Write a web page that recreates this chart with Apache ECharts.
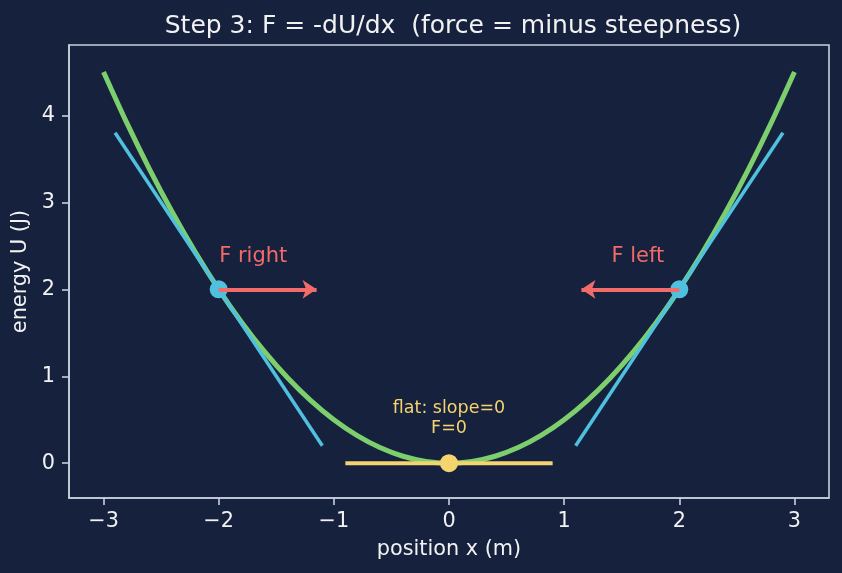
<!DOCTYPE html>
<html>
<head>
<meta charset="utf-8">
<script src="https://cdn.jsdelivr.net/npm/echarts@6/dist/echarts.min.js"></script>
<style>
  html, body { margin: 0; padding: 0; background: #16213e; }
  #chart { width: 842px; height: 573px; }
</style>
</head>
<body>
<div id="chart"></div>
<script>
// ---- data ----
const curveX = [-3, -2.8, -2.6, -2.4, -2.2, -2, -1.8, -1.6, -1.4, -1.2, -1, -0.8, -0.6, -0.4, -0.2, 0,
                0.2, 0.4, 0.6, 0.8, 1, 1.2, 1.4, 1.6, 1.8, 2, 2.2, 2.4, 2.6, 2.8, 3];
const curveU = [4.5, 3.92, 3.38, 2.88, 2.42, 2, 1.62, 1.28, 0.98, 0.72, 0.5, 0.32, 0.18, 0.08, 0.02, 0,
                0.02, 0.08, 0.18, 0.32, 0.5, 0.72, 0.98, 1.28, 1.62, 2, 2.42, 2.88, 3.38, 3.92, 4.5];
const tangentLeftX = [-2.9, -1.1];
const tangentLeftU = [3.8, 0.2];
const tangentRightX = [1.1, 2.9];
const tangentRightU = [0.2, 3.8];
const flatX = [-0.9, 0.9];
const flatU = [0, 0];
const sidePointsX = [-2, 2];
const sidePointsU = [2, 2];
const centerPointX = [0];
const centerPointU = [0];
const arrowRight = [[-2, 2], [-1.15, 2]];
const arrowLeft = [[2, 2], [1.15, 2]];
const forceLabels = ['F right', 'F left'];
const forceLabelX = [-1.7, 1.64];
const forceLabelU = [2.38, 2.38];
const flatLabel = 'flat: slope=0\nF=0';
const flatLabelX = [0];
const flatLabelU = [0.52];
const xTicks = [-3, -2, -1, 0, 1, 2, 3];
const yTicks = [0, 1, 2, 3, 4];
const titleText = 'Step 3: F = -dU/dx  (force = minus steepness)';
const xName = 'position x (m)';
const yName = 'energy U (J)';

const zip = (xs, ys) => xs.map((x, i) => [x, ys[i]]);
const fmt = v => String(v).replace('-', '\u2212');

const FONT = 'DejaVu Sans';
const AXIS_COLOR = '#c9d0de';
const TEXT_COLOR = '#f2f2f2';
const GREEN = '#7ccf6c';
const CYAN = '#4fc0dd';
const RED = '#f26b6b';
const YELLOW = '#f5d36e';

const chart = echarts.init(document.getElementById('chart'), null, { renderer: 'canvas' });

const axisCommon = {
  type: 'value',
  axisLine: { show: true, onZero: false, lineStyle: { color: AXIS_COLOR, width: 1.6 } },
  axisTick: { show: true, length: 7, lineStyle: { color: AXIS_COLOR, width: 1.6 } },
  splitLine: { show: false },
  axisLabel: { color: TEXT_COLOR, fontFamily: FONT, fontSize: 20.8, formatter: fmt }
};

chart.setOption({
  animation: false,
  backgroundColor: '#16213e',
  title: {
    text: titleText,
    left: 448, top: 9, textAlign: 'center',
    textStyle: { color: TEXT_COLOR, fontFamily: FONT, fontSize: 25, fontWeight: 'normal' }
  },
  grid: {
    left: 69, right: 13, top: 45, bottom: 75,
    show: true, borderColor: AXIS_COLOR, borderWidth: 1.6, backgroundColor: 'transparent'
  },
  xAxis: Object.assign({}, axisCommon, {
    min: -3.3, max: 3.3,
    name: xName, nameLocation: 'middle', nameGap: 41,
    nameTextStyle: { color: TEXT_COLOR, fontFamily: FONT, fontSize: 20.8 },
    axisTick: Object.assign({}, axisCommon.axisTick, { customValues: xTicks }),
    axisLabel: Object.assign({}, axisCommon.axisLabel, { customValues: xTicks, margin: 13 })
  }),
  yAxis: Object.assign({}, axisCommon, {
    min: -0.4, max: 4.81,
    name: yName, nameLocation: 'middle', nameGap: 34,
    nameTextStyle: { color: TEXT_COLOR, fontFamily: FONT, fontSize: 20.8 },
    axisTick: Object.assign({}, axisCommon.axisTick, { customValues: yTicks }),
    axisLabel: Object.assign({}, axisCommon.axisLabel, { customValues: yTicks, margin: 14 })
  }),
  series: [
    {
      type: 'line', data: zip(curveX, curveU), showSymbol: false, smooth: 0.3,
      lineStyle: { color: GREEN, width: 5 }, z: 2
    },
    {
      type: 'line', data: zip(tangentLeftX, tangentLeftU), showSymbol: false,
      lineStyle: { color: CYAN, width: 3.5 }, z: 3
    },
    {
      type: 'line', data: zip(tangentRightX, tangentRightU), showSymbol: false,
      lineStyle: { color: CYAN, width: 3.5 }, z: 3
    },
    {
      type: 'line', data: zip(flatX, flatU), showSymbol: false,
      lineStyle: { color: YELLOW, width: 4 }, z: 3
    },
    {
      type: 'scatter', data: zip(sidePointsX, sidePointsU), symbolSize: 18,
      itemStyle: { color: CYAN, opacity: 1 }, z: 4
    },
    {
      type: 'scatter', data: zip(centerPointX, centerPointU), symbolSize: 18,
      itemStyle: { color: YELLOW, opacity: 1 }, z: 4
    },
    {
      type: 'lines', coordinateSystem: 'cartesian2d', polyline: false,
      symbol: ['none', 'arrow'], symbolSize: 14,
      lineStyle: { color: RED, width: 4, opacity: 1, curveness: 0 },
      data: [{ coords: arrowRight }, { coords: arrowLeft }], z: 5
    },
    {
      type: 'scatter', symbolSize: 0, silent: true, z: 6,
      itemStyle: { opacity: 1 },
      data: zip(forceLabelX, forceLabelU).map((p, i) => ({ value: p, name: forceLabels[i] })),
      label: {
        show: true, position: 'inside', formatter: p => p.name, opacity: 1,
        color: RED, fontFamily: FONT, fontSize: 21
      }
    },
    {
      type: 'scatter', symbolSize: 0, silent: true, z: 6,
      itemStyle: { opacity: 1 },
      data: zip(flatLabelX, flatLabelU),
      label: {
        show: true, position: 'inside', formatter: () => flatLabel, opacity: 1,
        color: YELLOW, fontFamily: FONT, fontSize: 17.5, lineHeight: 20, align: 'center'
      }
    }
  ]
});
</script>
</body>
</html>
